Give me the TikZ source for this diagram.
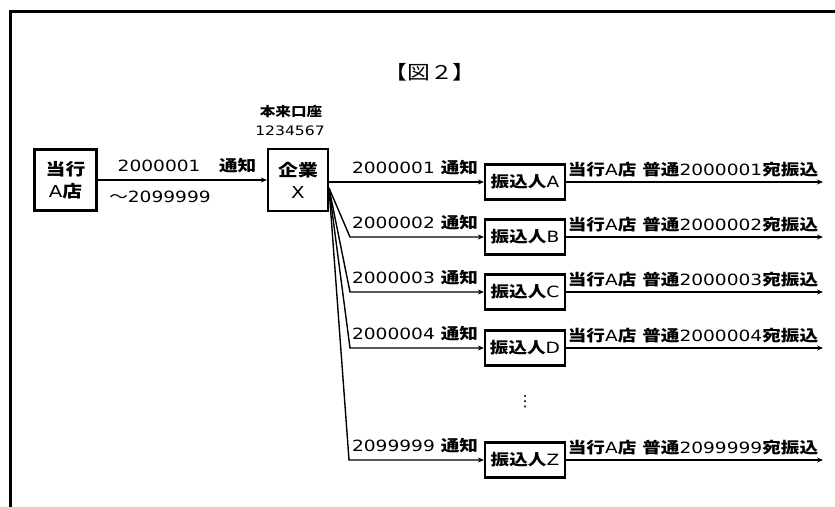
\documentclass[tikz,border=0pt]{standalone}
\usepackage{fontspec}
\setmainfont{DejaVu Sans}[FakeStretch=1.2]
\newfontfamily\jpf{Noto Sans CJK JP}[FakeStretch=1.2]
\newcommand\jp{\jpf\bfseries}
\newfontfamily\dvs{DejaVu Sans}
\usetikzlibrary{arrows.meta}
\begin{document}
\begin{tikzpicture}[x=1pt,y=-1pt,font=\fontsize{15.5}{18}\selectfont,
  box/.style={draw,line width=2.2pt,inner sep=0pt,align=center},
  pbox/.style={box,minimum width=80pt,minimum height=35pt},
  conn/.style={line width=1.4pt,-{Stealth[length=6pt,width=5pt]}},
  lbl/.style={inner sep=0pt},
  small/.style={lbl,font=\fontsize{13}{14}\selectfont}]
\useasboundingbox (0,0) rectangle (835,506);
\clip (0,0) rectangle (835,506);
\fill[white] (0,0) rectangle (835,506);
\draw[line width=3pt] (10,11) rectangle (850,520);

\node[lbl] (title) at (430,72) {\fontsize{19}{21}\selectfont\jpf 【図２】};

\node[box,minimum width=62pt,minimum height=61pt,font=\fontsize{16.5}{22}\selectfont] (ta) at (65.5,180) {{\jp 当行}\\A{\jp 店}};
\node[box,minimum width=60pt,minimum height=62pt,font=\fontsize{16.5}{22}\selectfont] (qx) at (298,180) {{\jp 企業}\\X};
\node[small] (acct) at (291,112) {\jp 本来口座};
\node[small] (num) at (290,131) {1234567};

\draw[conn] (ta) -- (qx);
\node[lbl] (l0a) at (187,166) {2000001\hspace{1.2em}{\jp 通知}};
\node[lbl] (l0b) at (160,197) {{\jpf ～}2099999};

\coordinate (fan) at (329,188);

% row A
\node[pbox] (pa) at (525,182) {{\jp 振込人}A};
\draw[conn] (qx.east |- pa.west) -- (pa.west);
\node[lbl] (la) at (415,168) {2000001 {\jp 通知}};
\coordinate (ea) at (823,182);
\draw[conn] (pa.east) -- (ea);
\node[lbl] (ra) at (693,170) {{\jp 当行}A{\jp 店} {\jp 普通}2000001{\jp 宛振込}};

% row B
\node[pbox] (pb) at (525,237) {{\jp 振込人}B};
\coordinate (bb) at (350,237);
\draw[conn] (fan) -- (bb) -- (pb.west);
\node[lbl] (lb) at (415,223) {2000002 {\jp 通知}};
\coordinate (eb) at (823,237);
\draw[conn] (pb.east) -- (eb);
\node[lbl] (rb) at (693,225) {{\jp 当行}A{\jp 店} {\jp 普通}2000002{\jp 宛振込}};

% row C
\node[pbox] (pc) at (525,292) {{\jp 振込人}C};
\coordinate (bc) at (350,292);
\draw[conn] (fan) -- (bc) -- (pc.west);
\node[lbl] (lc) at (415,278) {2000003 {\jp 通知}};
\coordinate (ec) at (823,292);
\draw[conn] (pc.east) -- (ec);
\node[lbl] (rc) at (693,280) {{\jp 当行}A{\jp 店} {\jp 普通}2000003{\jp 宛振込}};

% row D
\node[pbox] (pd) at (525,348) {{\jp 振込人}D};
\coordinate (bd) at (350,348);
\draw[conn] (fan) -- (bd) -- (pd.west);
\node[lbl] (ld) at (415,334) {2000004 {\jp 通知}};
\coordinate (ed) at (823,348);
\draw[conn] (pd.east) -- (ed);
\node[lbl] (rd) at (693,336) {{\jp 当行}A{\jp 店} {\jp 普通}2000004{\jp 宛振込}};

\node[lbl] (dots) at (525,402) {\dvs ⋮};

% row Z
\node[pbox] (pz) at (525,460) {{\jp 振込人}Z};
\coordinate (bz) at (349,460);
\draw[conn] (fan) -- (bz) -- (pz.west);
\node[lbl] (lz) at (415,446) {2099999 {\jp 通知}};
\coordinate (ez) at (823,460);
\draw[conn] (pz.east) -- (ez);
\node[lbl] (rz) at (693,448) {{\jp 当行}A{\jp 店} {\jp 普通}2099999{\jp 宛振込}};
\end{tikzpicture}
\end{document}
